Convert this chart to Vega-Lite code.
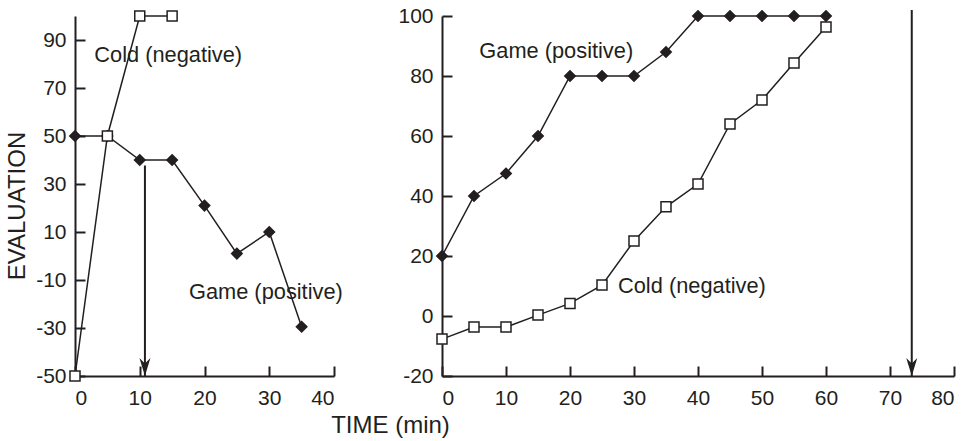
{
  "$schema": "https://vega.github.io/schema/vega-lite/v6.json",
  "padding": {"left": 5, "top": 5, "right": 5, "bottom": 5},
  "background": "white",
  "config": {
    "view": {"stroke": null},
    "font": "Liberation Sans",
    "axis": {
      "grid": false,
      "ticks": true,
      "domainColor": "#231f20",
      "domainWidth": 2,
      "labelColor": "#231f20",
      "labelFontSize": 21,
      "titleColor": "#231f20",
      "titleFontWeight": "normal",
      "labelFont": "Liberation Sans",
      "titleFont": "Liberation Sans"
    }
  },
  "bounds": "flush",
  "spacing": 108,
  "datasets": {
    "left": [
      {"time": 0, "evaluation": 50, "series": "Game (positive)"},
      {"time": 5, "evaluation": 50, "series": "Game (positive)"},
      {"time": 10, "evaluation": 40, "series": "Game (positive)"},
      {"time": 15, "evaluation": 40, "series": "Game (positive)"},
      {"time": 20, "evaluation": 21, "series": "Game (positive)"},
      {"time": 25, "evaluation": 1, "series": "Game (positive)"},
      {"time": 30, "evaluation": 10, "series": "Game (positive)"},
      {"time": 35, "evaluation": -29.5, "series": "Game (positive)"},
      {"time": 0, "evaluation": -50, "series": "Cold (negative)"},
      {"time": 5, "evaluation": 50, "series": "Cold (negative)"},
      {"time": 10, "evaluation": 100, "series": "Cold (negative)"},
      {"time": 15, "evaluation": 100, "series": "Cold (negative)"}
    ],
    "right": [
      {"time": 0, "evaluation": 20, "series": "Game (positive)"},
      {"time": 5, "evaluation": 40, "series": "Game (positive)"},
      {"time": 10, "evaluation": 47.5, "series": "Game (positive)"},
      {"time": 15, "evaluation": 60, "series": "Game (positive)"},
      {"time": 20, "evaluation": 80, "series": "Game (positive)"},
      {"time": 25, "evaluation": 80, "series": "Game (positive)"},
      {"time": 30, "evaluation": 80, "series": "Game (positive)"},
      {"time": 35, "evaluation": 88, "series": "Game (positive)"},
      {"time": 40, "evaluation": 100, "series": "Game (positive)"},
      {"time": 45, "evaluation": 100, "series": "Game (positive)"},
      {"time": 50, "evaluation": 100, "series": "Game (positive)"},
      {"time": 55, "evaluation": 100, "series": "Game (positive)"},
      {"time": 60, "evaluation": 100, "series": "Game (positive)"},
      {"time": 0, "evaluation": -7.7, "series": "Cold (negative)"},
      {"time": 5, "evaluation": -3.7, "series": "Cold (negative)"},
      {"time": 10, "evaluation": -3.7, "series": "Cold (negative)"},
      {"time": 15, "evaluation": 0.3, "series": "Cold (negative)"},
      {"time": 20, "evaluation": 4.2, "series": "Cold (negative)"},
      {"time": 25, "evaluation": 10.3, "series": "Cold (negative)"},
      {"time": 30, "evaluation": 25, "series": "Cold (negative)"},
      {"time": 35, "evaluation": 36.4, "series": "Cold (negative)"},
      {"time": 40, "evaluation": 44, "series": "Cold (negative)"},
      {"time": 45, "evaluation": 64, "series": "Cold (negative)"},
      {"time": 50, "evaluation": 72, "series": "Cold (negative)"},
      {"time": 55, "evaluation": 84.3, "series": "Cold (negative)"},
      {"time": 60, "evaluation": 96.3, "series": "Cold (negative)"}
    ],
    "leftArrow": [{"time": 10.8, "top": 37.7, "tip": -50}],
    "rightArrow": [{"time": 73.4, "top": 102, "tip": -20}],
    "leftLabels": [
      {"time": 2.98, "evaluation": 80.7, "text": "Cold (negative)"},
      {"time": 17.6, "evaluation": -17.9, "text": "Game (positive)"}
    ],
    "rightLabels": [
      {"time": 5.83, "evaluation": 85.9, "text": "Game (positive)"},
      {"time": 27.5, "evaluation": 7.8, "text": "Cold (negative)"}
    ]
  },
  "hconcat": [
    {
      "width": 259,
      "height": 360,
      "layer": [
        {
          "data": {"name": "left"},
          "mark": {"type": "line", "color": "#231f20", "strokeWidth": 1.5},
          "encoding": {
            "x": {"field": "time", "type": "quantitative", "scale": {"domain": [0, 40], "nice": false},
              "axis": {
                "values": [0, 5, 10, 15, 20, 25, 30, 35, 40],
                "labelExpr": "datum.value % 10 === 0 ? '' + datum.value : ''",
                "tickSize": -10,
                "tickColor": "#231f20",
                "tickWidth": 2,
                "tickDash": {"condition": {"test": "datum.value % 10 === 0", "value": [10, 0]}, "value": [5, 20]},
                "labelPadding": 21,
                "title": "TIME (min)",
                "titleFontSize": 24,
                "titleX": 315,
                "titleY": 56,
                "titleBaseline": "alphabetic"
              }},
            "y": {"field": "evaluation", "type": "quantitative", "scale": {"domain": [-50, 100], "nice": false},
              "axis": {
                "values": [-50, -40, -30, -20, -10, 0, 10, 20, 30, 40, 50, 60, 70, 80, 90, 100],
                "labelExpr": "abs(datum.value) % 20 === 10 ? '' + datum.value : ''",
                "tickSize": -10,
                "tickColor": "#231f20",
                "tickWidth": 2,
                "tickDash": {"condition": {"test": "abs(datum.value) % 20 === 10", "value": [10, 0]}, "value": [5, 20]},
                "labelPadding": 19,
                "title": "EVALUATION",
                "titleFontSize": 24,
                "titlePadding": 6,
                "titleY": 189.5
              }},
            "detail": {"field": "series"}
          }
        },
        {
          "data": {"name": "leftArrow"},
          "mark": {"type": "rule", "color": "#231f20", "strokeWidth": 2},
          "encoding": {
            "x": {"field": "time", "type": "quantitative"},
            "y": {"field": "top", "type": "quantitative"},
            "y2": {"field": "tip"}
          }
        },
        {
          "data": {"name": "leftArrow"},
          "mark": {"type": "point", "shape": "M0,0L-0.55,-1.8L0,-1.25L0.55,-1.8Z", "filled": true, "color": "#231f20", "size": 400, "opacity": 1},
          "encoding": {
            "x": {"field": "time", "type": "quantitative"},
            "y": {"field": "tip", "type": "quantitative"}
          }
        },
        {
          "data": {"name": "left"},
          "mark": {"type": "point", "filled": true, "stroke": "#231f20", "strokeWidth": 1.5, "opacity": 1},
          "encoding": {
            "x": {"field": "time", "type": "quantitative"},
            "y": {"field": "evaluation", "type": "quantitative"},
            "shape": {"field": "series", "type": "nominal", "scale": {"domain": ["Game (positive)", "Cold (negative)"], "range": ["diamond", "square"]}, "legend": null},
            "fill": {"field": "series", "type": "nominal", "scale": {"domain": ["Game (positive)", "Cold (negative)"], "range": ["#231f20", "white"]}, "legend": null},
            "size": {"field": "series", "type": "nominal", "scale": {"domain": ["Game (positive)", "Cold (negative)"], "range": [110, 100]}, "legend": null}
          }
        },
        {
          "data": {"name": "leftLabels"},
          "mark": {"type": "text", "align": "left", "baseline": "alphabetic", "fontSize": 21.8, "color": "#231f20"},
          "encoding": {
            "x": {"field": "time", "type": "quantitative"},
            "y": {"field": "evaluation", "type": "quantitative"},
            "text": {"field": "text"}
          }
        }
      ]
    },
    {
      "width": 512,
      "height": 360,
      "layer": [
        {
          "data": {"name": "right"},
          "mark": {"type": "line", "color": "#231f20", "strokeWidth": 1.5},
          "encoding": {
            "x": {"field": "time", "type": "quantitative", "scale": {"domain": [0, 80], "nice": false},
              "axis": {
                "values": [0, 5, 10, 15, 20, 25, 30, 35, 40, 45, 50, 55, 60, 65, 70, 75, 80],
                "labelExpr": "datum.value % 10 === 0 ? '' + datum.value : ''",
                "tickSize": -10,
                "tickColor": "#231f20",
                "tickWidth": 2,
                "tickDash": {"condition": {"test": "datum.value % 10 === 0", "value": [10, 0]}, "value": [5, 20]},
                "labelPadding": 21,
                "title": null
              }},
            "y": {"field": "evaluation", "type": "quantitative", "scale": {"domain": [-20, 100], "nice": false},
              "axis": {
                "values": [-20, -10, 0, 10, 20, 30, 40, 50, 60, 70, 80, 90, 100],
                "labelExpr": "datum.value % 20 === 0 ? '' + datum.value : ''",
                "tickSize": -10,
                "tickColor": "#231f20",
                "tickWidth": 2,
                "tickDash": {"condition": {"test": "datum.value % 20 === 0", "value": [10, 0]}, "value": [5, 20]},
                "labelPadding": 19,
                "title": null
              }},
            "detail": {"field": "series"}
          }
        },
        {
          "data": {"name": "rightArrow"},
          "mark": {"type": "rule", "color": "#231f20", "strokeWidth": 2},
          "encoding": {
            "x": {"field": "time", "type": "quantitative"},
            "y": {"field": "top", "type": "quantitative"},
            "y2": {"field": "tip"}
          }
        },
        {
          "data": {"name": "rightArrow"},
          "mark": {"type": "point", "shape": "M0,0L-0.55,-1.8L0,-1.25L0.55,-1.8Z", "filled": true, "color": "#231f20", "size": 400, "opacity": 1},
          "encoding": {
            "x": {"field": "time", "type": "quantitative"},
            "y": {"field": "tip", "type": "quantitative"}
          }
        },
        {
          "data": {"name": "right"},
          "mark": {"type": "point", "filled": true, "stroke": "#231f20", "strokeWidth": 1.5, "opacity": 1},
          "encoding": {
            "x": {"field": "time", "type": "quantitative"},
            "y": {"field": "evaluation", "type": "quantitative"},
            "shape": {"field": "series", "type": "nominal", "scale": {"domain": ["Game (positive)", "Cold (negative)"], "range": ["diamond", "square"]}, "legend": null},
            "fill": {"field": "series", "type": "nominal", "scale": {"domain": ["Game (positive)", "Cold (negative)"], "range": ["#231f20", "white"]}, "legend": null},
            "size": {"field": "series", "type": "nominal", "scale": {"domain": ["Game (positive)", "Cold (negative)"], "range": [110, 100]}, "legend": null}
          }
        },
        {
          "data": {"name": "rightLabels"},
          "mark": {"type": "text", "align": "left", "baseline": "alphabetic", "fontSize": 21.8, "color": "#231f20"},
          "encoding": {
            "x": {"field": "time", "type": "quantitative"},
            "y": {"field": "evaluation", "type": "quantitative"},
            "text": {"field": "text"}
          }
        }
      ]
    }
  ]
}
